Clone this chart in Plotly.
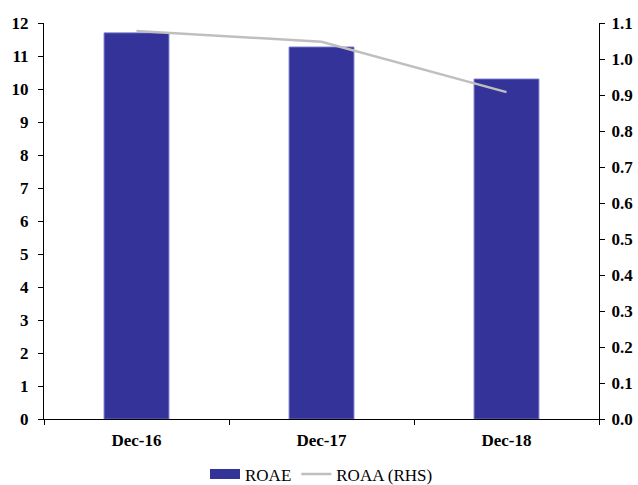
import plotly.graph_objects as go

periods = ["Dec-16", "Dec-17", "Dec-18"]
roae = [11.70, 11.27, 10.30]
roaa = [1.078, 1.048, 0.908]

font_family = "Liberation Serif"
bar_color = "#333399"

fig = go.Figure()
fig.add_trace(go.Bar(
    x=periods, y=roae, name="ROAE", showlegend=False,
    marker=dict(color=bar_color, line=dict(color="#6b6bc4", width=1)),
    width=0.35,
))
# wide rectangular legend key for the bar series
fig.add_trace(go.Scatter(
    x=[None], y=[None], name="ROAE", mode="lines",
    line=dict(color=bar_color, width=12),
))
fig.add_trace(go.Scatter(
    x=periods, y=roaa, name="ROAA (RHS)", yaxis="y2",
    mode="lines", line=dict(color="#bfbfbf", width=2.5),
))

axis_common = dict(
    showline=True, linecolor="black", linewidth=1,
    ticks="outside", ticklen=5, tickcolor="black",
    showgrid=False, zeroline=False,
    tickfont=dict(family=font_family, size=17, color="black", weight="bold"),
    automargin=False,
)

fig.update_layout(
    width=638, height=485,
    margin=dict(l=44, r=39, t=23, b=66),
    paper_bgcolor="white", plot_bgcolor="white",
    font=dict(family=font_family, color="black"),
    xaxis=dict(**axis_common, tickson="boundaries", type="category", ticklabelstandoff=6),
    yaxis=dict(**axis_common, range=[0, 12], dtick=1, ticklabelstandoff=6),
    yaxis2=dict(**axis_common, range=[0, 1.1], dtick=0.1, tickformat=".1f",
                overlaying="y", side="right", ticklabelstandoff=3),
    legend=dict(orientation="h", x=0.5, xanchor="center",
                yref="container", y=0.022, yanchor="middle",
                font=dict(family=font_family, size=17, color="black"),
                itemwidth=30),
    showlegend=True,
)

fig.write_html("out.html")
